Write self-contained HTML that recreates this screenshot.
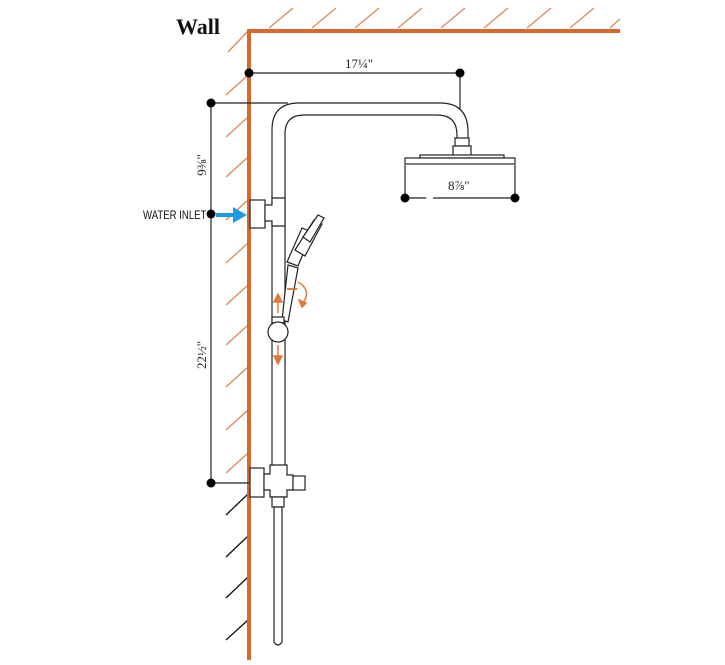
<!DOCTYPE html>
<html><head><meta charset="utf-8"><style>
html,body{margin:0;padding:0;background:#fff;width:725px;height:665px;overflow:hidden}
svg{display:block}
</style></head><body>
<svg width="725" height="665" viewBox="0 0 725 665" xmlns="http://www.w3.org/2000/svg">
<g stroke="#d9895a" stroke-width="1.3">
<line x1="228" y1="52" x2="250" y2="29"/>
<line x1="269" y1="28" x2="293" y2="8"/>
<line x1="312" y1="28" x2="336" y2="8"/>
<line x1="355" y1="28" x2="379" y2="8"/>
<line x1="398" y1="28" x2="422" y2="8"/>
<line x1="441" y1="28" x2="465" y2="8"/>
<line x1="484" y1="28" x2="508" y2="8"/>
<line x1="527" y1="28" x2="551" y2="8"/>
<line x1="570" y1="28" x2="594" y2="8"/>
<line x1="610" y1="28" x2="620" y2="19"/>
<line x1="226" y1="95" x2="248" y2="75"/>
<line x1="226" y1="137" x2="248" y2="117"/>
<line x1="226" y1="177" x2="248" y2="157"/>
<line x1="226" y1="220" x2="248" y2="200"/>
<line x1="226" y1="263" x2="248" y2="243"/>
<line x1="226" y1="305" x2="248" y2="285"/>
<line x1="226" y1="345" x2="248" y2="325"/>
<line x1="226" y1="387" x2="248" y2="367"/>
<line x1="226" y1="430" x2="248" y2="410"/>
<line x1="226" y1="473" x2="248" y2="453"/>
</g>
<g stroke="#111" stroke-width="1.3">
<line x1="226" y1="515" x2="248" y2="494"/>
<line x1="226" y1="557" x2="248" y2="536"/>
<line x1="226" y1="598" x2="248" y2="577"/>
<line x1="226" y1="640" x2="248" y2="620"/>
</g>
<path d="M249 660 V31 H620" fill="none" stroke="#d8692c" stroke-width="4"/>
<text x="176" y="34" font-family="Liberation Serif,serif" font-weight="bold" font-size="22" fill="#111">Wall</text>
<g stroke="#222" stroke-width="1.2" fill="none">
<line x1="249" y1="73" x2="460" y2="73"/>
<line x1="460" y1="73" x2="460" y2="140"/>
<line x1="211" y1="103" x2="288" y2="103"/>
<line x1="211" y1="103" x2="211" y2="483"/>
<line x1="211" y1="483" x2="249" y2="483"/>
<line x1="405" y1="165" x2="405" y2="198"/>
<line x1="515" y1="165" x2="515" y2="198"/>
<line x1="405" y1="198" x2="515" y2="198"/>
</g>
<g fill="#000">
<circle cx="249" cy="73" r="4.5"/><circle cx="460" cy="73" r="4.5"/>
<circle cx="211" cy="103" r="4.5"/><circle cx="211" cy="214" r="4.5"/><circle cx="211" cy="483" r="4.5"/>
<circle cx="405" cy="198" r="4.5"/><circle cx="515" cy="198" r="4.5"/>
</g>
<text x="345" y="68" font-family="Liberation Serif,serif" font-size="13" fill="#222">17¼"</text>
<text x="448" y="190" font-family="Liberation Serif,serif" font-size="13" fill="#222">8⅞"</text>
<text transform="translate(206,165) rotate(-90)" text-anchor="middle" font-family="Liberation Serif,serif" font-size="13" fill="#222">9⅜"</text>
<text transform="translate(206,355) rotate(-90)" text-anchor="middle" font-family="Liberation Serif,serif" font-size="13" fill="#222">22½"</text>
<text x="143" y="219" font-family="Liberation Sans,sans-serif" font-size="12" fill="#111" transform="translate(143,0) scale(0.8,1) translate(-143,0)">WATER INLET</text>
<line x1="216" y1="215" x2="236" y2="215" stroke="#1e9be0" stroke-width="4"/>
<polygon points="233,207 247,215 233,223" fill="#1e9be0"/>
<g stroke="#222" stroke-width="1.2" fill="#fff">
<path d="M272 465 V130 Q272 103 299 103 H440 Q468 103 468 132 V140 M457 140 V135 Q457 115 437 115 H304 Q285 115 285 134 V465"/>
<rect x="455" y="138" width="14" height="8"/>
<rect x="453" y="146" width="18" height="11"/>
<rect x="420" y="155" width="84" height="3"/>
<rect x="405" y="158" width="110" height="6"/>
<rect x="250" y="200" width="15" height="28"/>
<path d="M265 205 H272 V198 H285 V226 H272 V221 H265 Z"/>
<path d="M287 262 L302 228 L312 232 L298 266 Z"/>
<path d="M295 250 L314 220 L322 224 L305 256 Z"/>
<path d="M303 237 L318 215 L324 218 L310 242 Z"/>
<path d="M288 265 L298 268 L288 322 L282 320 Z"/>
<rect x="272" y="317" width="12" height="6"/>
<circle cx="278" cy="332" r="10"/>
<rect x="250" y="468" width="14" height="29"/>
<path d="M264 474 H270 V465 H287 V475 H293 V490 H287 V497 H270 V490 H264 Z"/>
<rect x="293" y="476" width="12" height="14"/>
<rect x="272" y="497" width="12" height="10"/>
<path d="M274 507 V642 Q278 648 282 642 V507 Z"/>
</g>
<g fill="#e07a3a" stroke="#e07a3a" stroke-width="1.5">
<line x1="278" y1="300" x2="278" y2="313"/><polygon points="274,302 278,294 282,302"/>
<line x1="278" y1="345" x2="278" y2="358"/><polygon points="274,356 278,364 282,356"/>
<path d="M298 282 Q312 290 303 303" fill="none"/><polygon points="299,300 306,303 302,307" />
</g>
<line x1="287" y1="289" x2="297" y2="289" stroke="#e07a3a" stroke-width="2"/>
</svg>
</body></html>
